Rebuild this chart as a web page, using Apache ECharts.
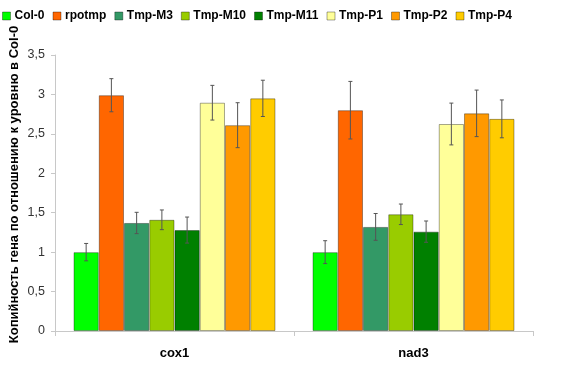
<!DOCTYPE html>
<html><head><meta charset="utf-8">
<script src="https://cdn.jsdelivr.net/npm/echarts@6/dist/echarts.min.js"></script>
<style>html,body{margin:0;padding:0;background:#fff}#c{width:571px;height:374px}</style>
</head><body><div id="c"></div>
<script>
const categories = ['cox1', 'nad3'];
const seriesNames = ['Col-0', 'rpotmp', 'Tmp-M3', 'Tmp-M10', 'Tmp-M11', 'Tmp-P1', 'Tmp-P2', 'Tmp-P4'];
const colors = ['#00ff00', '#ff6600', '#339966', '#99cc00', '#008000', '#ffff99', '#ff9900', '#ffcc00'];
const cox1Values = [1.0, 2.99, 1.37, 1.41, 1.28, 2.895, 2.61, 2.95];
const cox1Errors = [0.11, 0.21, 0.135, 0.125, 0.165, 0.22, 0.285, 0.23];
const nad3Values = [1.0, 2.80, 1.32, 1.48, 1.26, 2.625, 2.76, 2.69];
const nad3Errors = [0.145, 0.365, 0.17, 0.13, 0.135, 0.265, 0.295, 0.24];
const yTicks = ['0', '0,5', '1', '1,5', '2', '2,5', '3', '3,5'];

const chart = echarts.init(document.getElementById('c'));
const nS = seriesNames.length;
const series = [];
seriesNames.forEach((name, i) => {
  series.push({
    name, type: 'bar', barGap: '0%', barCategoryGap: '15.5%',
    itemStyle: { color: colors[i], borderColor: 'rgba(0,0,0,0.35)', borderWidth: 1 },
    data: [cox1Values[i], nad3Values[i]], z: 2
  });
});
series.push({
  type: 'custom', name: 'err', z: 5,
  data: (function(){ const d=[]; for(let c=0;c<2;c++){ for(let i=0;i<nS;i++){ const v=c===0?cox1Values[i]:nad3Values[i]; const e=c===0?cox1Errors[i]:nad3Errors[i]; d.push([c, v-e, v+e, i]); } } return d; })(),
  renderItem: function(params, api) {
    const c = api.value(0), lo = api.value(1), hi = api.value(2), i = api.value(3);
    const bw = api.size([1, 0])[0];
    const inner = bw * (1 - 0.155);
    const w = inner / nS;
    const cx = api.coord([c, 0])[0] - inner / 2 + w * (i + 0.5);
    const pl = api.coord([c, lo])[1], ph = api.coord([c, hi])[1];
    const st = { stroke: '#555', lineWidth: 1 };
    return { type: 'group', children: [
      { type: 'line', shape: { x1: cx, y1: pl, x2: cx, y2: ph }, style: st },
      { type: 'line', shape: { x1: cx - 2, y1: pl, x2: cx + 2, y2: pl }, style: st },
      { type: 'line', shape: { x1: cx - 2, y1: ph, x2: cx + 2, y2: ph }, style: st }
    ]};
  },
  encode: { x: 0, y: [1, 2] }
});

chart.setOption({
  animation: false,
  textStyle: { fontFamily: 'Liberation Sans, Arial, sans-serif' },
  legend: {
    data: seriesNames, left: 2, top: 10, padding: 0, itemWidth: 8, itemHeight: 8, itemGap: 8,
    icon: 'rect',
    itemStyle: { borderColor: 'rgba(0,0,0,0.35)', borderWidth: 1 },
    textStyle: { fontSize: 12, fontWeight: 'bold', color: '#000', padding: [0, 0, 0, -1] }
  },
  grid: { left: 55, right: 38, top: 55, bottom: 43, containLabel: false, outerBoundsMode: 'none' },
  xAxis: {
    type: 'category', data: categories,
    axisLine: { lineStyle: { color: '#c8c8c8' } },
    axisTick: { show: true, length: 5, lineStyle: { color: '#c8c8c8' } },
    axisLabel: { fontSize: 13, fontWeight: 'bold', color: '#000', margin: 16 }
  },
  yAxis: {
    type: 'value', min: 0, max: 3.5, interval: 0.5,
    name: 'Копийность гена по отношению к уровню в Col-0',
    nameLocation: 'middle', nameGap: 34, nameRotate: 90, nameMoveOverlap: false,
    nameTextStyle: { fontSize: 13, fontWeight: 'bold', color: '#000', padding: [0, 0, 0, 17] },
    axisLine: { show: true, lineStyle: { color: '#c8c8c8' } },
    axisTick: { show: true, length: 4, lineStyle: { color: '#c8c8c8' } },
    splitLine: { show: false },
    axisLabel: { fontSize: 12.5, color: '#333', margin: 10, formatter: v => yTicks[Math.round(v * 2)] }
  },
  series
});
</script></body></html>
